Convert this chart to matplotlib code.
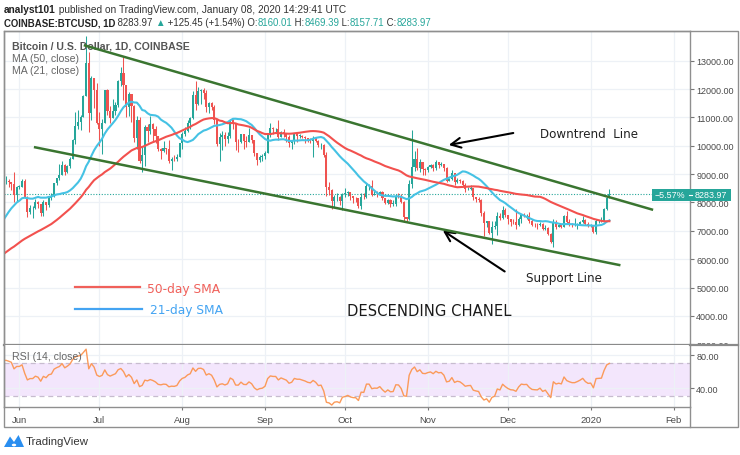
import numpy as np
import pandas as pd
import matplotlib
matplotlib.use("Agg")
import matplotlib.pyplot as plt
import matplotlib.dates as mdates
from matplotlib import font_manager
from matplotlib.patches import Rectangle, Polygon, Circle
from matplotlib.lines import Line2D
from matplotlib.transforms import Bbox

# ── data: BTCUSD daily (Coinbase) ──
# closes before the visible window, only used to warm up MA / RSI
warmup_start = "2019-04-01"
warmup_close = [4140, 4900, 4970, 4910, 5040, 5060, 5200, 5290, 5200, 5330,
                5040, 5080, 5080, 5160, 5040, 5210, 5240, 5290, 5270, 5320,
                5290, 5390, 5520, 5440, 5230, 5220, 5200, 5160, 5160, 5320,
                5360, 5480, 5760, 5780, 5730, 5710, 5790, 5990, 6170, 6360,
                7200, 6900, 7800, 7960, 8200, 7860, 7350, 7260, 8200, 7980,
                7950, 7630, 7880, 7990, 8060, 8740]

start = "2019-05-27"
close = [
    8770, 8720, 8660, 8270, 8550,
    # Jun
    8550, 8740, 8210, 7680, 7800, 7800, 8000, 7930, 7630, 8020, 7920, 8170, 8230, 8690, 8860,
    8980, 9320, 9080, 9270, 9530, 10200, 10700, 10850, 11000, 11750, 12930, 11160, 12400, 11960, 10820,
    # Jul
    10580, 10800, 11960, 11220, 10980, 11210, 11450, 12290, 12570, 12160, 11360, 11820, 11390, 10260, 10900, 9480,
    9690, 10670, 10530, 10770, 10600, 10340, 9900, 9810, 9910, 9870, 9480, 9550, 9520, 9610, 10090,
    # Aug
    10400, 10520, 10820, 10970, 11800, 11480, 11940, 11970, 11860, 11350, 11520, 11380, 10900, 10050, 10310, 10370,
    10230, 10340, 10920, 10760, 10140, 10130, 10410, 10160, 10140, 10370, 10190, 9750, 9510, 9600, 9630,
    # Sep
    9760, 10370, 10620, 10580, 10580, 10320, 10480, 10400, 10320, 10100, 10160, 10410, 10360, 10360, 10310,
    10260, 10190, 10160, 10270, 10180, 10010, 10030, 9690, 8530, 8430, 8060, 8190, 8210, 8050, 8300,
    # Oct
    8330, 8380, 8230, 8160, 8150, 7870, 8210, 8190, 8590, 8590, 8270, 8300, 8290, 8360, 8160, 7990,
    8080, 7950, 7960, 8230, 8220, 8020, 7470, 7430, 8660, 9250, 9550, 9220, 9430, 9170, 9150,
    # Nov
    9250, 9310, 9200, 9410, 9320, 9350, 9200, 8770, 8810, 9050, 8720, 8800, 8760, 8630, 8460,
    8490, 8500, 8180, 8120, 8080, 7620, 7280, 7330, 6910, 7120, 7170, 7520, 7440, 7750, 7570,
    # Dec
    7420, 7320, 7300, 7200, 7400, 7540, 7510, 7520, 7340, 7220, 7200, 7190, 7250, 7070, 7110, 6890,
    6620, 7290, 7150, 7190, 7150, 7520, 7320, 7250, 7200, 7200, 7250, 7310, 7390, 7250, 7170,
    # Jan 2020
    7180, 6960, 7340, 7350, 7360, 7760, 8160, 8283.97]

high = [
    8950, 8820, 8730, 9080, 8590,
    8620, 8810, 8820, 8220, 7900, 7870, 8130, 8060, 7960, 8100, 8020, 8240, 8330, 8700, 8880,
    9350, 9450, 9340, 9310, 9600, 10250, 11200, 11250, 11080, 11780, 13880, 13310, 12450, 12400, 12200,
    11200, 10930, 11970, 12000, 11400, 11650, 11550, 12320, 12790, 13130, 12150, 11900, 11830, 11450, 11050, 11000,
    9950, 10720, 10750, 11050, 10800, 10680, 10340, 9920, 10180, 9910, 10190, 9600, 9690, 9710, 10110,
    10470, 10650, 10920, 11000, 11920, 12300, 12060, 12000, 12030, 11960, 11560, 11540, 11450, 10900, 10450, 10530,
    10480, 10470, 10950, 10950, 10780, 10230, 10430, 10420, 10330, 10610, 10380, 10220, 9760, 9660, 9700,
    9800, 10440, 10790, 10650, 10630, 10920, 10530, 10600, 10440, 10380, 10200, 10450, 10440, 10420, 10390,
    10350, 10270, 10270, 10330, 10290, 10190, 10090, 10050, 9790, 8720, 8460, 8270, 8320, 8220, 8320,
    8500, 8390, 8380, 8230, 8180, 8160, 8320, 8340, 8670, 8650, 8800, 8420, 8410, 8410, 8390, 8170,
    8120, 8110, 8090, 8300, 8330, 8300, 8040, 7500, 8800, 10540, 9800, 9930, 9550, 9430, 9210,
    9280, 9370, 9340, 9500, 9440, 9430, 9370, 9240, 8860, 9130, 9050, 8880, 8830, 8780, 8680,
    8540, 8630, 8520, 8200, 8210, 8120, 7700, 7350, 7350, 7330, 7360, 7660, 7620, 7870, 7820,
    7570, 7430, 7400, 7760, 7490, 7570, 7630, 7590, 7650, 7400, 7270, 7260, 7300, 7270, 7190, 7140,
    6940, 7430, 7370, 7230, 7200, 7550, 7690, 7430, 7280, 7440, 7280, 7360, 7520, 7420, 7320,
    7250, 7200, 7400, 7390, 7490, 7800, 8220, 8469.39]

low = [
    8650, 8560, 8430, 8010, 8050,
    8460, 8530, 8150, 7480, 7580, 7450, 7760, 7800, 7510, 7510, 7730, 7830, 8070, 8180, 8620,
    8800, 8970, 8960, 9050, 9200, 9530, 10060, 10580, 10560, 11000, 11740, 10490, 10900, 11340, 10750,
    10000, 9700, 10800, 11090, 10800, 10980, 11070, 11370, 12100, 11600, 11000, 11050, 10850, 10150, 9900, 9400,
    9080, 9300, 10150, 10400, 10180, 10100, 9830, 9550, 9790, 9720, 9380, 9150, 9450, 9450, 9590,
    9870, 10350, 10500, 10580, 10950, 11250, 11440, 11480, 11640, 11190, 11150, 11270, 10780, 9980, 9470, 9850,
    9980, 10080, 10260, 10600, 9850, 9780, 10080, 9900, 9950, 10120, 10080, 9650, 9330, 9410, 9460,
    9550, 9760, 10310, 10400, 10460, 10200, 10310, 10300, 10120, 9950, 9880, 10050, 10150, 10280, 10280,
    10100, 10150, 10110, 9600, 10120, 9960, 9900, 9620, 8220, 8260, 7760, 7850, 8040, 7900, 7730,
    8210, 8230, 8070, 7990, 8010, 7800, 7780, 8120, 8140, 8450, 8230, 8270, 8200, 8250, 8100, 7960,
    7950, 7830, 7890, 7880, 8170, 7990, 7300, 7360, 7390, 8500, 9100, 9150, 9090, 8980, 8960,
    9070, 9210, 9100, 9130, 9230, 9300, 9100, 8730, 8760, 8790, 8630, 8700, 8700, 8580, 8380,
    8440, 8430, 8080, 8010, 8030, 7520, 6800, 7130, 6870, 6530, 7060, 6860, 7390, 7420, 7470,
    7240, 7170, 7250, 7080, 7160, 7290, 7490, 7420, 7280, 7170, 7130, 7080, 7180, 7030, 7020, 6850,
    6560, 6440, 7050, 7120, 7110, 7130, 7260, 7160, 7130, 7160, 7080, 7230, 7290, 7200, 7150,
    7150, 6920, 6880, 7270, 7320, 7350, 7740, 8157.71]

# analyst's trend lines (date, price)
down_x = ["2019-06-25 14:00", "2020-01-23 22:00"]
down_y = [13536, 7751]
sup_x = ["2019-06-06 22:00", "2020-01-11 16:00"]
sup_y = [9945, 5794]

month_ticks = ["2019-06-01", "2019-07-01", "2019-08-01", "2019-09-01", "2019-10-01",
               "2019-11-01", "2019-12-01", "2020-01-01", "2020-02-01"]
month_labels = ["Jun", "Jul", "Aug", "Sep", "Oct", "Nov", "Dec", "2020", "Feb"]
price_ticks = [3000, 4000, 5000, 6000, 7000, 8000, 9000, 10000, 11000, 12000, 13000]
last_price = 8283.97

# ── indicators ──
all_close = pd.Series(warmup_close + close,
                      index=pd.date_range(warmup_start, periods=len(warmup_close) + len(close)))
ma50 = all_close.rolling(50).mean()
ma21 = all_close.rolling(21).mean()
delta = all_close.diff()
avg_up = delta.clip(lower=0).ewm(alpha=1 / 14, adjust=False).mean()
avg_dn = (-delta.clip(upper=0)).ewm(alpha=1 / 14, adjust=False).mean()
rsi = 100 - 100 / (1 + avg_up / avg_dn)

dates = pd.date_range(start, periods=len(close))
x = mdates.date2num(dates)
opens = np.array([warmup_close[-1]] + close[:-1])
c = np.array(close)
up = c >= opens
vis = all_close.index >= pd.Timestamp("2019-05-20")

# ── fonts / colours ──
names = {f.name for f in font_manager.fontManager.ttflist}
narrow = "Liberation Sans Narrow" if "Liberation Sans Narrow" in names else "Liberation Sans"
GREEN, RED = "#26a69a", "#ef5350"
TXT = "#4a4a4a"
GRID = "#edf1f6"
BORDER = "#8f8f8f"
SCALE_FONT = "Liberation Sans"

W, H = 740, 456
fig = plt.figure(figsize=(W / 100, H / 100), dpi=100)


def fx(px):
    return px / W


def fy(py):
    return 1 - py / H


ax1 = fig.add_axes([fx(4), fy(346), fx(686), (346 - 32) / H])
ax2 = fig.add_axes([fx(4), fy(408), fx(686), (408 - 346) / H], sharex=ax1)

x_left = mdates.date2num(pd.Timestamp("2019-05-26 06:00"))
ax1.set_xlim(x_left, x_left + 686 / 2.67)
ax1.set_ylim(2972, 14048)

# ── price panel ──
ax1.set_xticks(mdates.date2num(pd.to_datetime(month_ticks)))
ax1.set_yticks(price_ticks)
ax1.grid(True, color=GRID, lw=0.9)
ax1.set_axisbelow(True)

col = np.where(up, GREEN, RED)
ax1.vlines(x, low, high, colors=col, lw=0.75, zorder=2)
ax1.bar(x, np.maximum(np.abs(c - opens), 15), bottom=np.minimum(c, opens),
        width=0.78, color=col, lw=0, zorder=3)

ax1.plot(ma21.index[vis], ma21[vis], color="#45c2e4", lw=1.5, zorder=4)
ax1.plot(ma50.index[vis], ma50[vis], color="#f2514e", lw=1.5, zorder=4)

ax1.plot(pd.to_datetime(down_x), down_y, color="#3a7530", lw=1.8, zorder=5)
ax1.plot(pd.to_datetime(sup_x), sup_y, color="#3a7530", lw=1.8, zorder=5)

ax1.axhline(last_price, color=GREEN, lw=0.8, ls=(0, (1, 1.5)), zorder=1)

ax1.yaxis.tick_right()
ax1.tick_params(axis="y", which="both", right=True, length=3, width=0.8, color="#777",
                labelsize=6.5, labelcolor=TXT, pad=1.5)
ax1.tick_params(axis="x", bottom=False, labelbottom=False)
ax1.yaxis.set_major_formatter(matplotlib.ticker.FuncFormatter(lambda v, p: f"{v:.2f}"))
for lab in ax1.get_yticklabels():
    lab.set_fontfamily(SCALE_FONT)
for s in ["top", "left", "right"]:
    ax1.spines[s].set_color(BORDER)
    ax1.spines[s].set_linewidth(1.0)
ax1.spines["bottom"].set_color("#8a8a8a")
ax1.spines["bottom"].set_linewidth(1.6)

ax1.text(0.012, 0.955, "Bitcoin / U.S. Dollar, 1D, COINBASE", transform=ax1.transAxes,
         fontsize=7.6, color="#555", fontweight="bold", family=narrow, va="center")
ax1.text(0.012, 0.915, "MA (50, close)", transform=ax1.transAxes,
         fontsize=7.6, color="#666", family=narrow, va="center")
ax1.text(0.012, 0.875, "MA (21, close)", transform=ax1.transAxes,
         fontsize=7.6, color="#666", family=narrow, va="center")

# ── RSI panel ──
ax2.set_ylim(16.9, 92.4)
ax2.axhspan(30, 70, color="#f3e6fc", lw=0, zorder=0)
ax2.axhline(70, color="#c7bccf", lw=0.9, ls=(0, (4, 3)), zorder=1)
ax2.axhline(30, color="#c7bccf", lw=0.9, ls=(0, (4, 3)), zorder=1)
ax2.set_yticks([40, 80])
ax2.grid(True, color=GRID, lw=0.9)
ax2.set_axisbelow(True)
ax2.plot(rsi.index[vis], rsi[vis], color="#fb9a5a", lw=1.0, zorder=3)
ax2.yaxis.tick_right()
ax2.tick_params(axis="y", right=True, length=3, width=0.8, color="#777",
                labelsize=6.5, labelcolor=TXT, pad=1.5)
ax2.yaxis.set_major_formatter(matplotlib.ticker.FuncFormatter(lambda v, p: f"{v:.2f}"))
ax2.set_xticks(mdates.date2num(pd.to_datetime(month_ticks)))
ax2.set_xticklabels(month_labels)
ax2.tick_params(axis="x", length=2.5, width=0.8, color="#777", labelsize=6.8,
                labelcolor=TXT, pad=3)
for lab in ax2.get_xticklabels() + ax2.get_yticklabels():
    lab.set_fontfamily(SCALE_FONT)
for s in ["top", "left", "right", "bottom"]:
    ax2.spines[s].set_color(BORDER)
    ax2.spines[s].set_linewidth(1.0)
ax2.spines["top"].set_visible(False)
ax2.text(0.012, 0.82, "RSI (14, close)", transform=ax2.transAxes,
         fontsize=7.6, color="#666", family=narrow, va="center")

# ── frame around both panels + price scale ──
fig.add_artist(Rectangle((fx(4), fy(428)), fx(734), (428 - 32) / H, transform=fig.transFigure,
                         fill=False, ec=BORDER, lw=1.0))
fig.add_artist(Line2D([fx(690), fx(690)], [fy(408), fy(428)], transform=fig.transFigure,
                      color=BORDER, lw=1.0))
fig.add_artist(Line2D([fx(690), fx(738)], [fy(346), fy(346)], transform=fig.transFigure,
                      color="#8a8a8a", lw=1.6))

# last price tag
fig.add_artist(Rectangle((fx(652), fy(201.5)), fx(79), 12 / H, transform=fig.transFigure,
                         fc=GREEN, ec="none", zorder=10))
fig.text(fx(670), fy(195.5), "\u22125.57%", color="white", fontsize=6.4, ha="center",
         va="center", family=SCALE_FONT, zorder=11)
fig.text(fx(710.5), fy(195.5), "8283.97", color="white", fontsize=6.4, ha="center",
         va="center", family=SCALE_FONT, zorder=11)
fig.add_artist(Line2D([fx(689), fx(692)], [fy(195.5), fy(195.5)], transform=fig.transFigure,
                      color="white", lw=0.8, zorder=11))

# ── annotations ──
arrow = dict(arrowstyle="->,head_length=0.7,head_width=0.35", color="black", lw=1.5)
ax1.annotate("", xy=(fx(446), fy(146.5)), xycoords="figure fraction",
             xytext=(fx(516), fy(133.5)), textcoords="figure fraction", arrowprops=arrow)
ax1.annotate("", xy=(fx(440.5), fy(230)), xycoords="figure fraction",
             xytext=(fx(507), fy(274)), textcoords="figure fraction", arrowprops=arrow)
fig.text(fx(540), fy(135), "Downtrend  Line", fontsize=8.6, color="#222", va="center")
fig.text(fx(526), fy(279), "Support Line", fontsize=8.6, color="#222", va="center")
fig.text(fx(347), fy(312), "DESCENDING CHANEL", fontsize=10.6, color="#1a1a1a", va="center")

fig.add_artist(Line2D([fx(75), fx(140)], [fy(287.5), fy(287.5)], transform=fig.transFigure,
                      color="#f0605a", lw=1.6))
fig.text(fx(147), fy(289), "50-day SMA", fontsize=8.8, color="#f0605a", va="center")
fig.add_artist(Line2D([fx(75), fx(142)], [fy(309.5), fy(309.5)], transform=fig.transFigure,
                      color="#44a4f2", lw=1.6))
fig.text(fx(150), fy(311), "21-day SMA", fontsize=8.8, color="#44a4f2", va="center")

# ── header ──
renderer = fig.canvas.get_renderer()


def text_run(parts, px, py, size):
    xx = fx(px)
    for s, color, weight in parts:
        t = fig.text(xx, fy(py), s, color=color, fontsize=size, fontweight=weight,
                     family=[narrow, "DejaVu Sans"], va="center")
        xx += t.get_window_extent(renderer=renderer).width / fig.bbox.width


DARK = "#222"
text_run([("analyst101", DARK, "bold"),
          (" published on TradingView.com, January 08, 2020 14:29:41 UTC", "#333", "normal")],
         4, 10, 7.3)
text_run([("COINBASE:BTCUSD, 1D", DARK, "bold"), (" 8283.97 ", "#333", "normal"),
          ("\u25b2", GREEN, "normal"), (" +125.45 (+1.54%) O:", "#333", "normal"),
          ("8160.01", GREEN, "normal"), (" H:", "#333", "normal"),
          ("8469.39", GREEN, "normal"), (" L:", "#333", "normal"),
          ("8157.71", GREEN, "normal"), (" C:", "#333", "normal"),
          ("8283.97", GREEN, "normal")], 4, 23.5, 6.9)

# ── TradingView logo ──
fig.add_artist(Polygon([(fx(4), fy(448)), (fx(10), fy(437.5)), (fx(14), fy(443)),
                        (fx(18.5), fy(436)), (fx(24), fy(448))], closed=True,
                       transform=fig.transFigure, fc="#2a8ef0", ec="none"))
fig.add_artist(Circle((fx(14), fy(446)), 2.2 / W, transform=fig.transFigure, fc="white", ec="none"))
fig.text(fx(26), fy(442), "TradingView", fontsize=8.2, color="#333", va="center",
         family=[narrow, "DejaVu Sans"])

# clip the price-scale labels at the panel separator
fig.canvas.draw()
clip = Bbox.from_extents(0, H - 346, W, H)
for tick in ax1.yaxis.get_major_ticks():
    tick.label2.set_clip_box(clip)
    tick.label2.set_clip_on(True)

fig.savefig("out.png", dpi=100, facecolor="white")
